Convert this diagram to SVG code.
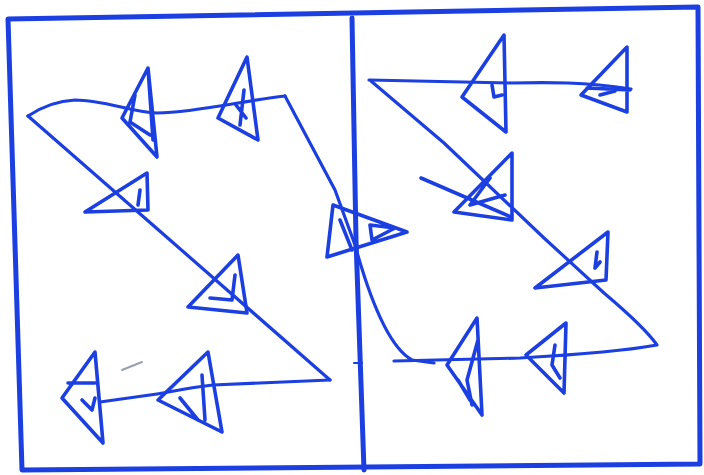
<svg xmlns="http://www.w3.org/2000/svg" width="704" height="475" viewBox="0 0 704 475">
<style>
.frame{fill:none;stroke:#1b3fe0;stroke-width:5;stroke-linejoin:round;stroke-linecap:round}
.ink{fill:none;stroke:#1b3fe0;stroke-width:3.2;stroke-linejoin:round;stroke-linecap:round}
.tri{fill:none;stroke:#1b3fe0;stroke-width:3.6;stroke-linejoin:round;stroke-linecap:round}
.fine{fill:none;stroke:#1b3fe0;stroke-width:2.2;stroke-linecap:round}
</style>
<rect width="704" height="475" fill="#ffffff"/>
<g id="frame">
<path class="frame" d="M8,19 L698,7 L700,464 L22,470 Z"/>
<path class="frame" d="M352,18 L356,240 L364,470"/>
<path class="fine" d="M354,363 L362,363"/>
</g>
<g id="connectors">
<path class="ink" d="M285,96 C240,101 200,112 157,113 C130,112 105,100 75,100 C55,101 40,108 28,116"/>
<path class="ink" d="M28,116 L170,240 L330,380"/>
<path class="ink" d="M330,380 L213,385 C185,388 165,393 157,394 L100,402"/>
<path class="ink" d="M285,96 L335,190 L355,245 C366,285 385,345 412,360 L434,363"/>
<path class="ink" d="M394,361 L520,358 C590,354 630,350 657,345 C650,335 630,315 604,293 L544,238 L444,143 L371,81"/>
<path class="ink" d="M369,80 L511,83 C550,82 584,82 631,89"/>
<path d="M122,370 L142,362" stroke="#9aa0b0" stroke-width="2" stroke-linecap="round"/>
</g>
<g id="arrow-1"><path class="tri" d="M148,68 L122,118 L157,157 Z M148,68 L153,140 M135,95 L130,122 L150,135"/></g>
<g id="arrow-2"><path class="tri" d="M247,57 L218,118 L258,140 Z M244,90 L240,125 M236,105 L246,118"/></g>
<g id="arrow-3"><path class="tri" d="M147,173 L85,212 L148,210 Z M140,190 L138,205"/></g>
<g id="arrow-4"><path class="tri" d="M238,255 L188,307 L247,313 Z M235,275 L232,300 L210,298"/></g>
<g id="arrow-5"><path class="tri" d="M208,352 L158,400 L222,432 Z M202,375 L205,420 M180,398 L198,420"/></g>
<g id="arrow-6"><path class="tri" d="M95,352 L62,398 L103,443 Z M68,383 L95,383 M82,400 L92,410 L95,398"/></g>
<g id="arrow-7"><path class="tri" d="M333,205 L327,257 L407,232 Z M340,220 L352,250 M370,225 L395,228 L372,240 Z"/></g>
<g id="arrow-8"><path class="tri" d="M504,35 L462,97 L506,132 Z M492,85 L494,97 L502,95"/></g>
<g id="arrow-9"><path class="tri" d="M627,47 L581,95 L627,112 Z M587,88 L630,90 M600,95 L615,91"/></g>
<g id="arrow-10"><path class="tri" d="M512,153 L454,212 L512,220 Z M421,178 L511,217 M490,178 L470,205 L505,195"/></g>
<g id="arrow-11"><path class="tri" d="M608,232 L535,288 L606,280 Z M597,252 L595,268 L600,262"/></g>
<g id="arrow-12"><path class="tri" d="M477,318 L447,365 L482,415 Z M478,340 L467,380 L472,405 M458,380 L470,400"/></g>
<g id="arrow-13"><path class="tri" d="M566,323 L526,355 L564,393 Z M555,345 L552,365 L560,378"/></g>
</svg>
